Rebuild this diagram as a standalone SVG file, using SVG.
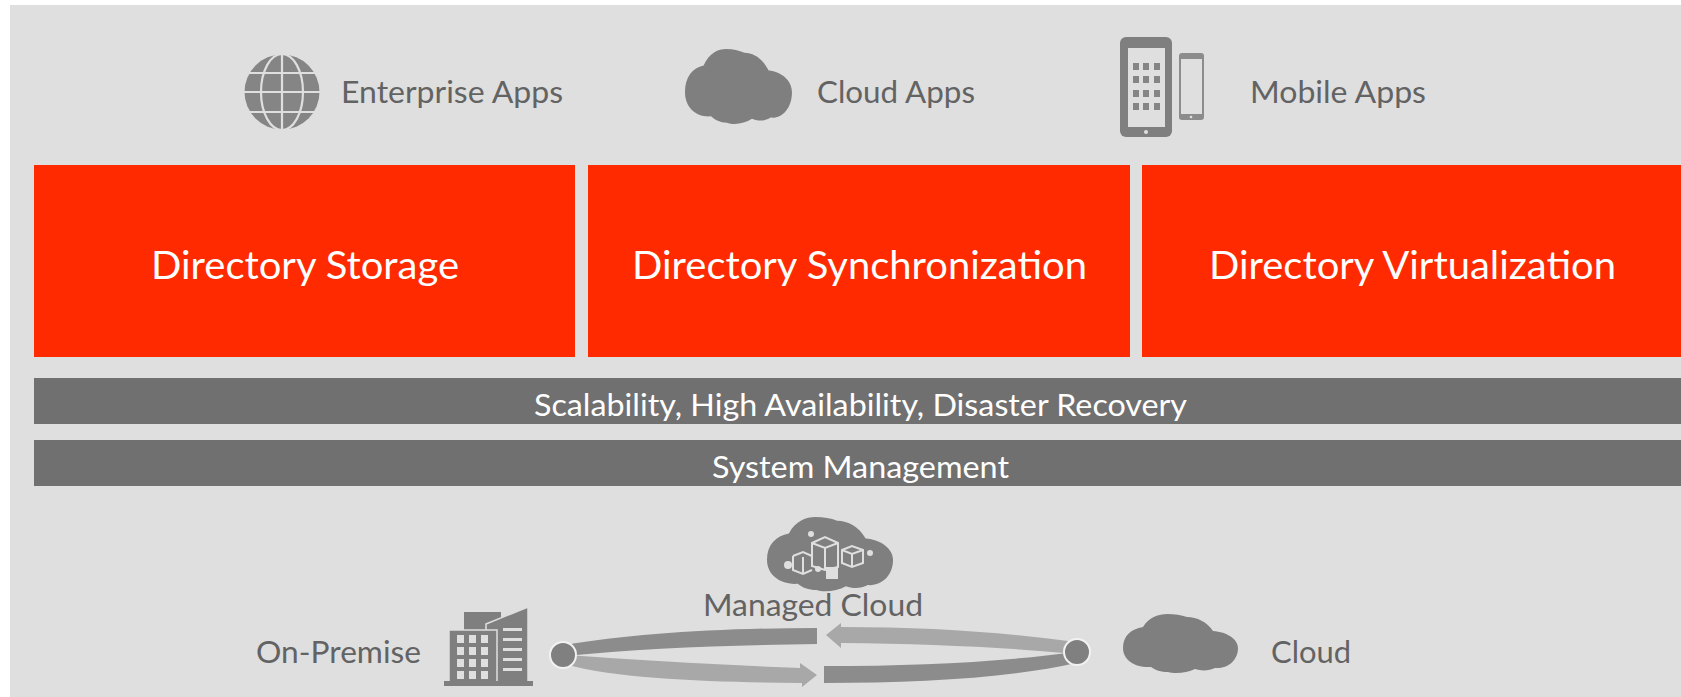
<svg xmlns="http://www.w3.org/2000/svg" width="1681" height="697" viewBox="0 0 1681 697">
<style>
text{font-family:Lato,"Open Sans",sans-serif}
.lbl{font-size:31px;fill:#636363}
.red{fill:#ff2a00}
.h{font-size:38px;fill:#fff}
.bar{fill:#707070}
.b{font-size:31px;fill:#fff}
.ic{fill:#7f7f7f}
.dk{fill:#8c8c8c}
.lt{fill:#a8a8a8}
.bg{fill:#dfdfdf}
.dot{fill:#808080;stroke:#f2f2f2;stroke-width:2}
</style>
<defs>
<path id="cl" d="M0 34C0 22 8 15 20 13C26 3 36 0 44 0C52 0 58 1 64 3C74 3 84 8 90 17C104 18 115 25 115 34C115 47 104 55 92 54C86 57 78 57 72 55C64 59 52 60 45 58C38 58 32 56 28 53C12 54 0 46 0 34Z"/>
</defs>
<rect x="10" y="5" width="1671" height="692" class="bg"/>
<g id="enterprise-apps">
<circle cx="282" cy="92" r="37.500" fill="#858585"/>
<g fill="none" stroke="#dfdfdf" stroke-width="2.200">
<ellipse cx="282" cy="92" rx="21" ry="38"/>
<path d="M282 54V130M244 92H320M248 73H316M248 112H316"/>
</g>
<text class="lbl" x="341" y="103" textLength="222" lengthAdjust="spacingAndGlyphs">Enterprise Apps</text>
</g>
<g id="cloud-apps">
<use href="#cl" class="ic" transform="translate(685 49) scale(.93 1.27)"/>
<text class="lbl" x="817" y="103" textLength="158" lengthAdjust="spacingAndGlyphs">Cloud Apps</text>
</g>
<g id="mobile-apps">
<rect x="1120" y="37" width="52" height="100" rx="6" class="ic"/>
<rect x="1128" y="48" width="37" height="79" class="bg"/>
<circle cx="1146" cy="132" r="2" class="bg"/>
<g fill="#858585">
<rect x="1133" y="63" width="6" height="7"/><rect x="1143" y="63" width="6" height="7"/><rect x="1154" y="63" width="6" height="7"/>
<rect x="1133" y="76" width="6" height="7"/><rect x="1143" y="76" width="6" height="7"/><rect x="1154" y="76" width="6" height="7"/>
<rect x="1133" y="90" width="6" height="7"/><rect x="1143" y="90" width="6" height="7"/><rect x="1154" y="90" width="6" height="7"/>
<rect x="1133" y="103" width="6" height="7"/><rect x="1143" y="103" width="6" height="7"/><rect x="1154" y="103" width="6" height="7"/>
</g>
<rect x="1179" y="53" width="25" height="67" rx="3" fill="#8c8c8c"/>
<rect x="1181" y="59" width="21" height="55" class="bg"/>
<circle cx="1191" cy="117" r="1.300" class="bg"/>
<text class="lbl" x="1250" y="103" textLength="176" lengthAdjust="spacingAndGlyphs">Mobile Apps</text>
</g>
<g id="directory-storage"><rect class="red" x="34" y="165" width="541" height="192"/><text class="h" x="151" y="279" textLength="308" lengthAdjust="spacingAndGlyphs">Directory Storage</text></g>
<g id="directory-sync"><rect class="red" x="588" y="165" width="542" height="192"/><text class="h" x="632" y="279" textLength="455" lengthAdjust="spacingAndGlyphs">Directory Synchronization</text></g>
<g id="directory-virt"><rect class="red" x="1142" y="165" width="539" height="192"/><text class="h" x="1209" y="279" textLength="407" lengthAdjust="spacingAndGlyphs">Directory Virtualization</text></g>
<g id="scalability"><rect class="bar" x="34" y="378" width="1647" height="46"/><text class="b" x="534" y="416" textLength="653" lengthAdjust="spacingAndGlyphs">Scalability, High Availability, Disaster Recovery</text></g>
<g id="system-management"><rect class="bar" x="34" y="440" width="1647" height="46"/><text class="b" x="712" y="478" textLength="297" lengthAdjust="spacingAndGlyphs">System Management</text></g>
<g id="managed-cloud">
<use href="#cl" class="ic" transform="translate(767 517) scale(1.096 1.26)"/>
<g fill="none" stroke="#dfdfdf" stroke-width="2">
<path d="M812 543L825 537L838 543V567L825 570L812 566ZM812 543L825 548L838 543M825 548V570"/>
<path d="M793 556L803 552L812 556M793 556V570L803 574L812 570M803 557V574"/>
<path d="M842 550L852 546L863 550V563L852 567L842 563ZM842 550L852 554L863 550M852 554V567"/>
</g>
<g class="bg"><circle cx="811" cy="534" r="3"/><circle cx="870" cy="553" r="3"/><rect x="826" y="567" width="12" height="12"/><circle cx="788" cy="565" r="4"/><circle cx="818" cy="569" r="3"/></g>
<text class="lbl" x="703" y="616" textLength="220" lengthAdjust="spacingAndGlyphs">Managed Cloud</text>
</g>
<g id="on-premise">
<text class="lbl" x="256" y="663" textLength="165" lengthAdjust="spacingAndGlyphs">On-Premise</text>
<g class="ic">
<rect x="464" y="612" width="37" height="20"/>
<path d="M486 624L528 607V682H486Z" stroke="#dfdfdf" stroke-width="1.500"/>
<rect x="449" y="630" width="48" height="52" stroke="#dfdfdf" stroke-width="1.500"/>
<rect x="444" y="681" width="89" height="5"/>
</g>
<g class="bg">
<rect x="457" y="635" width="7" height="8"/><rect x="469" y="635" width="7" height="8"/><rect x="481" y="635" width="7" height="8"/>
<rect x="457" y="647" width="7" height="8"/><rect x="469" y="647" width="7" height="8"/><rect x="481" y="647" width="7" height="8"/>
<rect x="457" y="659" width="7" height="8"/><rect x="469" y="659" width="7" height="8"/><rect x="481" y="659" width="7" height="8"/>
<rect x="457" y="671" width="7" height="8"/><rect x="469" y="671" width="7" height="8"/><rect x="481" y="671" width="7" height="8"/>
<rect x="503" y="628" width="19" height="3"/><rect x="503" y="638" width="19" height="3"/><rect x="503" y="648" width="19" height="3"/><rect x="503" y="658" width="19" height="3"/><rect x="503" y="668" width="19" height="3"/>
</g>
</g>
<g id="cloud-node">
<use href="#cl" class="ic" transform="translate(1123 614)"/>
<text class="lbl" x="1271" y="663" textLength="80" lengthAdjust="spacingAndGlyphs">Cloud</text>
</g>
<g id="connectors">
<path class="dk" d="M565 645C630 634 720 628 817 628V644C730 645 640 648 565 656Z"/>
<path class="lt" d="M565 655C640 660 720 665 800 668V663L817 675L802 687V683C720 682 620 680 565 664Z"/>
<path class="lt" d="M1076 642C1000 632 930 627 841 627V623L826 635L841 648V643C930 644 1000 647 1076 654Z"/>
<path class="dk" d="M1076 652C1000 662 920 666 824 666V683C920 683 1010 678 1076 663Z"/>
<circle class="dot" cx="563" cy="655" r="13"/>
<circle class="dot" cx="1077" cy="652" r="13"/>
</g>
</svg>
